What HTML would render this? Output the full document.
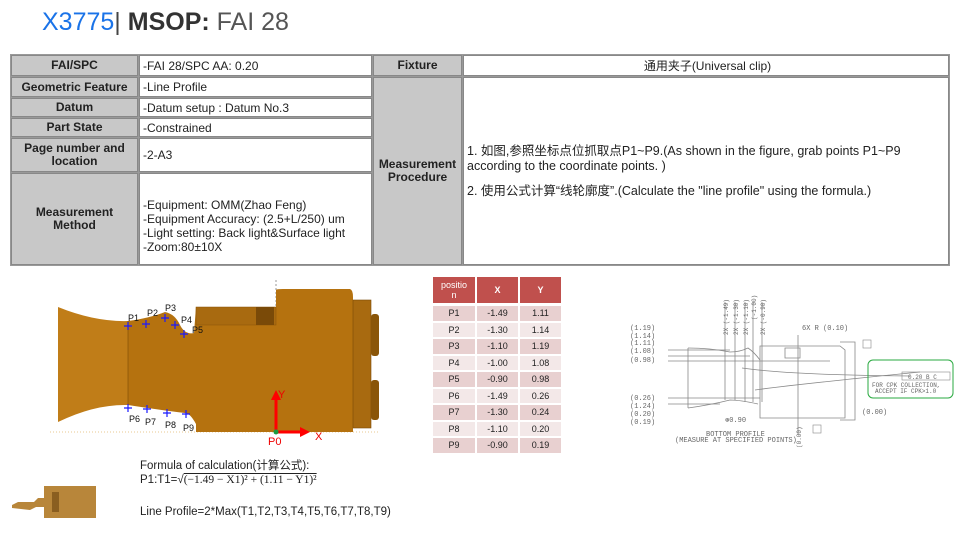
<!DOCTYPE html>
<html><head><meta charset="utf-8"><style>
body{margin:0;width:960px;height:540px;background:#fff;position:relative;font-family:"Liberation Sans","Noto Sans CJK SC",sans-serif;overflow:hidden}
.a{position:absolute;box-sizing:border-box}
.c{position:absolute;box-sizing:border-box;border:1px solid #888;font-size:12px;color:#222;display:flex;align-items:center}
.h{background:#c8c8c8;font-weight:bold;justify-content:center;text-align:center;line-height:13px;padding:0 6px}
.v{background:#fff;padding-left:3px}
.t{position:absolute;font-size:9px;color:#222;text-align:center;display:flex;align-items:center;justify-content:center;box-sizing:border-box}
</style></head><body>
<div class="a" style="left:42px;top:8px;font-size:25px;color:#444;white-space:nowrap"><span style="color:#1a73e8">X3775</span>| <b style="color:#333">MSOP:</b> <span style="color:#555">FAI 28</span></div>

<div class="a" style="left:10px;top:54px;width:940px;height:212px;background:#999"></div>
<div class="c h" style="left:11px;top:55px;width:127px;height:21px">FAI/SPC</div>
<div class="c v" style="left:139px;top:55px;width:233px;height:21px">-FAI 28/SPC AA: 0.20</div>
<div class="c h" style="left:373px;top:55px;width:89px;height:21px">Fixture</div>
<div class="c v" style="left:463px;top:55px;width:486px;height:21px;justify-content:center">通用夹子(Universal clip)</div>
<div class="c h" style="left:11px;top:77px;width:127px;height:20px;padding:0">Geometric Feature</div>
<div class="c v" style="left:139px;top:77px;width:233px;height:20px">-Line Profile</div>
<div class="c h" style="left:11px;top:98px;width:127px;height:19px">Datum</div>
<div class="c v" style="left:139px;top:98px;width:233px;height:19px">-Datum setup : Datum No.3</div>
<div class="c h" style="left:11px;top:118px;width:127px;height:19px">Part State</div>
<div class="c v" style="left:139px;top:118px;width:233px;height:19px">-Constrained</div>
<div class="c h" style="left:11px;top:138px;width:127px;height:34px">Page number and location</div>
<div class="c v" style="left:139px;top:138px;width:233px;height:34px">-2-A3</div>
<div class="c h" style="left:11px;top:173px;width:127px;height:92px;padding:0 20px">Measurement Method</div>
<div class="c v" style="left:139px;top:173px;width:233px;height:92px;line-height:14px;padding-top:14px">-Equipment: OMM(Zhao Feng)<br>-Equipment Accuracy: (2.5+L/250) um<br>-Light setting: Back light&amp;Surface light<br>-Zoom:80±10X</div>
<div class="c h" style="left:373px;top:77px;width:89px;height:188px;padding:0 2px">Measurement Procedure</div>
<div class="c v" style="left:463px;top:77px;width:486px;height:188px;font-size:12.5px;line-height:15px;align-items:flex-start;padding-top:66px"><div>1. 如图,参照坐标点位抓取点P1~P9.(As shown in the figure, grab points P1~P9 according to the coordinate points. )<div style="height:10px"></div>2. 使用公式计算“线轮廓度”.(Calculate the "line profile" using the formula.)</div></div>

<svg class="a" style="left:0;top:270px" width="420" height="180" viewBox="0 270 420 180">
<line x1="276" y1="280" x2="276" y2="432" stroke="#999" stroke-dasharray="2,2"/>
<line x1="50" y1="432" x2="380" y2="432" stroke="#e8c890" stroke-dasharray="1,2"/>
<path d="M58 307 Q95 322 128 321 L128 405 Q95 404 58 422 Z" fill="#c07d18"/>
<path d="M128 321 Q150 318 165 312 Q175 314 180 325 Q185 335 194 333 L196 307 L276 307 L276 290 Q276 289 283 289 L350 289 Q353 290 353 297 L353 432 L196 432 L196 424 Q190 413 185 413 Q160 410 128 405 Z" fill="#b5720f"/>
<rect x="196" y="307" width="80" height="18" fill="#a86a10" stroke="#8a5508" stroke-width="0.5"/>
<rect x="256" y="307" width="18" height="18" fill="#7a4a08"/>
<rect x="353" y="300" width="18" height="128" fill="#a86a10" stroke="#7a4a08" stroke-width="0.6"/>
<rect x="371" y="314" width="8" height="42" rx="3" fill="#8a5508"/>
<rect x="371" y="380" width="8" height="40" rx="3" fill="#8a5508"/>
<line x1="128" y1="321" x2="128" y2="405" stroke="#7a4a08" stroke-width="0.6"/>
<g stroke="#1a1aff" stroke-width="1.2">
<path d="M128 322v8M124 326h8M146 320v8M142 324h8M165 314v8M161 318h8M175 321v8M171 325h8M184 330v8M180 334h8M128 404v8M124 408h8M147 405v8M143 409h8M167 409v8M163 413h8M186 410v8M182 414h8"/></g>
<g font-size="9" fill="#111" font-family="Liberation Sans,sans-serif">
<text x="128" y="321">P1</text><text x="147" y="316">P2</text><text x="165" y="311">P3</text><text x="181" y="323">P4</text><text x="192" y="333">P5</text>
<text x="129" y="422">P6</text><text x="145" y="425">P7</text><text x="165" y="428">P8</text><text x="183" y="431">P9</text></g>
<g stroke="#f00" stroke-width="3"><line x1="276" y1="432" x2="276" y2="398"/><line x1="276" y1="432" x2="303" y2="432"/></g>
<path d="M271 400 L276 390 L281 400Z M300 427 L310 432 L300 437Z" fill="#f00"/>
<circle cx="276" cy="432" r="2.5" fill="#1a9a40"/>
<g font-size="11" fill="#e00"><text x="278" y="398">Y</text><text x="315" y="440">X</text><text x="268" y="445">P0</text></g>
</svg>

<div class="a" style="left:433px;top:277px;width:128px;height:177px">
<div class="t" style="left:0;top:0;width:42px;height:26px;background:#c0504d;color:#fff;line-height:10px">positio<br>n</div>
<div class="t" style="left:44px;top:0;width:41px;height:26px;background:#c0504d;color:#fff;font-weight:bold">X</div>
<div class="t" style="left:87px;top:0;width:41px;height:26px;background:#c0504d;color:#fff;font-weight:bold">Y</div>
</div>
<div class="a" style="left:433px;top:306px;width:128px">
<table style="border-collapse:separate;border-spacing:2px;margin:-2px;font-size:9px;text-align:center;color:#222">
<tr style="background:#e8d0d0;height:14.5px"><td style="width:40px">P1</td><td style="width:39px">-1.49</td><td style="width:39px">1.11</td></tr>
<tr style="background:#f3e8e8;height:14.5px"><td>P2</td><td>-1.30</td><td>1.14</td></tr>
<tr style="background:#e8d0d0;height:14.5px"><td>P3</td><td>-1.10</td><td>1.19</td></tr>
<tr style="background:#f3e8e8;height:14.5px"><td>P4</td><td>-1.00</td><td>1.08</td></tr>
<tr style="background:#e8d0d0;height:14.5px"><td>P5</td><td>-0.90</td><td>0.98</td></tr>
<tr style="background:#f3e8e8;height:14.5px"><td>P6</td><td>-1.49</td><td>0.26</td></tr>
<tr style="background:#e8d0d0;height:14.5px"><td>P7</td><td>-1.30</td><td>0.24</td></tr>
<tr style="background:#f3e8e8;height:14.5px"><td>P8</td><td>-1.10</td><td>0.20</td></tr>
<tr style="background:#e8d0d0;height:14.5px"><td>P9</td><td>-0.90</td><td>0.19</td></tr>
</table></div>

<svg class="a" style="left:630px;top:290px" width="330" height="160" viewBox="0 0 330 160" font-family="Liberation Mono,monospace" font-size="7" fill="#666">
<g stroke="#888" stroke-width="0.8" fill="none">
<path d="M38 60 L100 60 M38 66 L120 66 M38 71 L200 71 M38 108 L130 108 M38 114 L90 114"/>
<path d="M58 58 Q80 58 100 62 Q110 62 118 58 Q124 62 130 70 M58 118 Q80 115 100 110 Q110 110 128 114"/>
<path d="M58 58 L58 118"/>
<path d="M130 56 L210 56 L215 60 L215 128 L130 128 Z M210 52 L225 52 L225 130 L210 130"/>
<path d="M95 12 L95 110 M105 12 L105 110 M115 12 L115 112 M123 12 L123 112 M132 12 L132 112 M168 45 L168 145"/>
<path d="M112 78 Q160 85 280 86 M125 100 Q160 95 290 82"/>
<path d="M155 58 L170 58 L170 68 L155 68 Z"/>
</g>
<g font-size="6">
<text transform="translate(98,45) rotate(-90)">2X (-1.49)</text><text transform="translate(108,45) rotate(-90)">2X (-1.30)</text>
<text transform="translate(118,45) rotate(-90)">2X (-1.10)</text><text transform="translate(126,30) rotate(-90)">(-1.00)</text>
<text transform="translate(135,45) rotate(-90)">2X (-0.90)</text><text transform="translate(171,158) rotate(-90)">(0.00)</text></g>
<text x="0" y="40">(1.19)</text><text x="0" y="48">(1.14)</text><text x="0" y="55">(1.11)</text><text x="0" y="63">(1.08)</text><text x="0" y="72">(0.98)</text>
<text x="0" y="110">(0.26)</text><text x="0" y="118">(1.24)</text><text x="0" y="126">(0.20)</text><text x="0" y="134">(0.19)</text>
<text x="172" y="40">6X R (0.10)</text><text x="232" y="124">(0.00)</text><text x="95" y="132">⊛0.90</text>
<text x="76" y="146">BOTTOM PROFILE</text><text x="45" y="152">(MEASURE AT SPECIFIED POINTS)</text>
<rect x="233" y="50" width="8" height="8" fill="none" stroke="#888" stroke-width="0.6"/>
<rect x="183" y="135" width="8" height="8" fill="none" stroke="#888" stroke-width="0.6"/>
<rect x="238" y="70" width="85" height="38" rx="5" fill="none" stroke="#2aaa40" stroke-width="1"/>
<rect x="272" y="82" width="48" height="8" fill="none" stroke="#888" stroke-width="0.6"/>
<text x="278" y="89" font-size="6">0.20 B C</text>
<text x="242" y="97" font-size="6">FOR CPK COLLECTION,</text><text x="245" y="103" font-size="6">ACCEPT IF CPK&gt;1.0</text>
</svg>

<div class="a" style="left:140px;top:459px;font-size:11.5px;color:#222;line-height:14px">Formula of calculation(计算公式):<br>P1:T1=√<span style="text-decoration:overline;font-family:'Liberation Serif',serif">(−1.49 − X1)² + (1.11 − Y1)²</span><br><div style="height:18px"></div>Line Profile=2*Max(T1,T2,T3,T4,T5,T6,T7,T8,T9)</div>

<svg class="a" style="left:0;top:480px" width="100" height="40">
<path d="M12 25 L18 22 L34 22 L38 18 L44 18 L44 6 L96 6 L96 38 L44 38 L44 27 L36 27 L30 30 L12 28Z" fill="#b8863a"/>
<rect x="52" y="12" width="7" height="20" fill="#8a5e20"/>
</svg>
</body></html>
